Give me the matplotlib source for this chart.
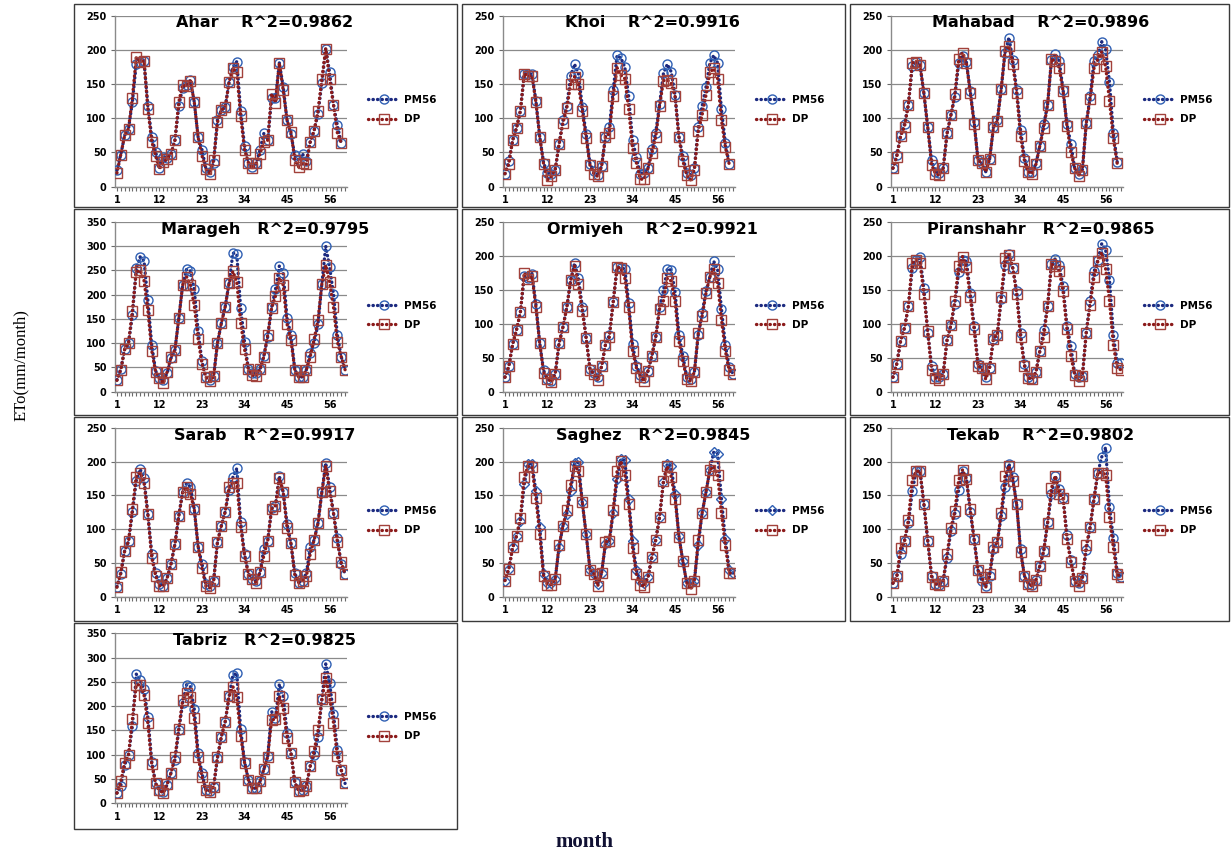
import matplotlib
matplotlib.use("Agg")
import matplotlib.pyplot as plt
from matplotlib.patches import Rectangle

# monthly ETo (mm/month): PM56 vs DP
ahar_pm = [24, 47, 75, 85, 124, 180, 183, 184, 118, 73, 51, 28, 44, 42, 48, 68, 118, 145, 148, 156,
           124, 72, 54, 27, 22, 35, 98, 112, 116, 153, 175, 183, 110, 60, 35, 29, 34, 54, 78, 68,
           129, 129, 181, 146, 97, 77, 46, 39, 48, 37, 66, 82, 107, 152, 202, 167, 120, 90, 64]
ahar_dp = [20, 47, 75, 85, 130, 189, 183, 184, 114, 66, 45, 26, 36, 41, 48, 68, 124, 149, 147, 155,
           124, 72, 45, 26, 19, 39, 94, 112, 116, 153, 173, 167, 103, 54, 35, 27, 34, 48, 66, 68,
           136, 123, 181, 141, 97, 80, 39, 29, 34, 33, 66, 82, 111, 157, 202, 158, 120, 79, 64]

khoi_pm = [19, 37, 68, 86, 111, 165, 165, 165, 126, 73, 35, 20, 19, 25, 62, 97, 118, 162, 179, 166,
           117, 77, 33, 23, 17, 30, 73, 87, 141, 192, 188, 175, 132, 68, 43, 19, 20, 27, 55, 79,
           121, 166, 179, 168, 134, 73, 45, 20, 17, 27, 88, 118, 146, 181, 192, 181, 113, 64, 33]
khoi_dp = [19, 33, 68, 86, 111, 165, 162, 162, 124, 73, 33, 10, 15, 25, 62, 93, 115, 150, 161, 150,
           110, 71, 31, 19, 15, 30, 72, 78, 133, 174, 163, 158, 114, 56, 35, 11, 11, 27, 49, 73,
           118, 155, 156, 151, 132, 72, 38, 17, 10, 25, 81, 105, 134, 167, 173, 158, 97, 58, 33]

mahabad_pm = [27, 46, 76, 92, 120, 176, 183, 178, 137, 87, 39, 22, 20, 27, 78, 105, 131, 181, 191, 182,
              140, 95, 39, 34, 22, 40, 87, 98, 143, 196, 218, 185, 142, 83, 42, 22, 21, 34, 60, 91,
              120, 185, 194, 184, 142, 92, 63, 27, 19, 25, 93, 132, 184, 192, 212, 201, 153, 79, 36]
mahabad_dp = [27, 44, 74, 88, 120, 181, 183, 178, 137, 87, 32, 19, 17, 27, 78, 105, 135, 186, 196, 181,
              137, 92, 39, 34, 22, 40, 87, 96, 143, 199, 206, 179, 137, 74, 38, 22, 19, 33, 60, 86,
              120, 186, 184, 174, 140, 89, 51, 27, 16, 25, 93, 128, 173, 186, 197, 176, 126, 71, 34]

marageh_pm = [24, 46, 87, 100, 158, 254, 278, 270, 189, 96, 43, 27, 23, 38, 69, 86, 151, 220, 252, 249,
              211, 124, 62, 30, 24, 31, 100, 141, 175, 224, 286, 283, 172, 103, 46, 38, 38, 46, 74, 113,
              174, 211, 259, 245, 151, 117, 45, 30, 30, 45, 79, 100, 139, 222, 300, 257, 202, 117, 72, 45]
marageh_dp = [23, 45, 87, 100, 167, 247, 250, 229, 168, 84, 41, 27, 17, 41, 71, 86, 151, 220, 237, 220,
              178, 108, 57, 30, 21, 31, 100, 141, 175, 224, 248, 226, 142, 87, 46, 34, 32, 46, 72, 117,
              172, 197, 235, 220, 139, 106, 45, 30, 30, 45, 72, 108, 148, 222, 261, 226, 174, 103, 72, 45]

ormiyeh_pm = [21, 37, 70, 91, 117, 170, 168, 174, 129, 71, 31, 19, 16, 26, 71, 95, 124, 164, 189, 167,
              125, 79, 33, 27, 21, 37, 69, 83, 132, 183, 182, 181, 131, 70, 38, 24, 20, 30, 53, 80,
              125, 149, 181, 179, 147, 84, 53, 22, 19, 29, 84, 116, 148, 169, 192, 180, 122, 69, 36, 26]
ormiyeh_dp = [21, 37, 70, 91, 117, 175, 166, 170, 125, 71, 28, 19, 14, 26, 71, 95, 124, 164, 185, 158,
              119, 79, 32, 26, 17, 37, 69, 80, 132, 183, 182, 167, 124, 60, 35, 22, 15, 30, 53, 80,
              122, 134, 167, 163, 133, 74, 45, 19, 15, 29, 86, 111, 145, 169, 181, 160, 106, 60, 31, 26]

piranshahr_pm = [21, 41, 75, 94, 126, 182, 194, 198, 152, 87, 38, 22, 21, 26, 76, 98, 129, 176, 194, 192,
                 146, 97, 41, 34, 21, 35, 78, 84, 136, 186, 203, 182, 148, 86, 40, 21, 18, 29, 60, 90,
                 126, 188, 196, 186, 155, 97, 67, 26, 21, 23, 87, 134, 177, 194, 218, 209, 165, 84, 42, 42]
piranshahr_dp = [21, 41, 75, 94, 126, 190, 194, 190, 144, 89, 31, 20, 17, 26, 76, 98, 134, 185, 199, 183,
                 140, 92, 38, 34, 18, 35, 78, 84, 140, 197, 202, 182, 144, 80, 38, 20, 18, 29, 60, 81,
                 126, 188, 185, 178, 148, 92, 53, 25, 16, 23, 87, 128, 169, 192, 205, 181, 134, 69, 34, 32]

sarab_pm = [15, 34, 68, 82, 125, 172, 189, 176, 122, 64, 35, 19, 16, 28, 49, 78, 120, 155, 168, 163,
            130, 74, 49, 19, 16, 23, 81, 105, 126, 158, 177, 190, 110, 63, 34, 26, 23, 36, 71, 83,
            131, 135, 179, 155, 108, 79, 35, 21, 24, 35, 73, 84, 109, 155, 198, 163, 124, 87, 48, 34]
sarab_dp = [14, 36, 68, 82, 130, 178, 184, 169, 122, 58, 31, 16, 16, 28, 49, 78, 120, 155, 162, 152,
            130, 74, 42, 16, 13, 23, 81, 105, 126, 163, 169, 169, 104, 61, 34, 26, 21, 36, 61, 83,
            130, 135, 176, 155, 102, 79, 32, 21, 24, 30, 64, 84, 109, 155, 194, 157, 124, 81, 51, 34]

saghez_pm = [24, 41, 73, 90, 112, 167, 197, 197, 156, 103, 34, 21, 21, 26, 73, 105, 123, 156, 198, 199,
             140, 93, 40, 34, 19, 35, 78, 83, 124, 174, 204, 202, 145, 82, 39, 23, 21, 29, 59, 84,
             118, 170, 197, 193, 152, 90, 53, 21, 21, 24, 77, 124, 155, 188, 214, 212, 145, 85, 40, 35]
saghez_dp = [24, 41, 73, 90, 117, 178, 193, 192, 146, 93, 30, 18, 18, 26, 76, 105, 128, 166, 194, 187,
             140, 93, 40, 34, 16, 35, 81, 83, 128, 186, 201, 181, 138, 72, 34, 18, 15, 29, 59, 84,
             118, 172, 193, 178, 145, 89, 53, 21, 11, 24, 84, 124, 155, 188, 193, 181, 124, 76, 35, 35]

tekab_pm = [20, 30, 63, 83, 109, 156, 186, 186, 138, 83, 31, 19, 18, 24, 58, 98, 123, 158, 186, 176,
            126, 85, 39, 23, 16, 30, 71, 81, 119, 163, 197, 177, 137, 71, 31, 19, 18, 25, 46, 68,
            110, 152, 179, 160, 147, 92, 54, 23, 21, 28, 69, 103, 145, 184, 207, 221, 133, 87, 35, 29]
tekab_dp = [20, 30, 72, 83, 114, 173, 186, 186, 138, 83, 29, 19, 18, 24, 63, 102, 127, 173, 188, 174,
            130, 85, 39, 29, 14, 33, 73, 81, 124, 179, 194, 172, 137, 66, 31, 19, 16, 25, 46, 68,
            109, 161, 179, 152, 147, 85, 52, 23, 16, 28, 76, 103, 145, 184, 184, 181, 118, 73, 33, 29]

tabriz_pm = [21, 36, 79, 100, 159, 266, 253, 236, 178, 86, 41, 26, 24, 38, 63, 89, 151, 206, 244, 240,
             194, 104, 62, 27, 26, 34, 93, 137, 168, 220, 264, 268, 152, 86, 48, 31, 31, 45, 70, 97,
             189, 175, 245, 221, 144, 104, 43, 26, 27, 36, 77, 100, 136, 214, 287, 248, 184, 110, 69, 41]
tabriz_dp = [21, 45, 84, 100, 173, 244, 244, 223, 165, 81, 41, 27, 21, 40, 63, 95, 154, 213, 228, 218,
             175, 96, 54, 27, 24, 34, 96, 137, 168, 220, 240, 218, 139, 84, 48, 31, 31, 45, 70, 96,
             172, 173, 221, 196, 134, 104, 43, 26, 27, 36, 77, 108, 150, 214, 259, 218, 166, 97, 69, 41]

stations = ["Ahar", "Khoi", "Mahabad", "Marageh", "Ormiyeh", "Piranshahr",
            "Sarab", "Saghez", "Tekab", "Tabriz"]
r2_values = ["0.9862", "0.9916", "0.9896", "0.9795", "0.9921", "0.9865",
             "0.9917", "0.9845", "0.9802", "0.9825"]
title_gaps = [4, 4, 4, 3, 4, 3, 3, 3, 4, 3]
y_max = [250, 250, 250, 350, 250, 250, 250, 250, 250, 350]
pm_series = [ahar_pm, khoi_pm, mahabad_pm, marageh_pm, ormiyeh_pm,
             piranshahr_pm, sarab_pm, saghez_pm, tekab_pm, tabriz_pm]
dp_series = [ahar_dp, khoi_dp, mahabad_dp, marageh_dp, ormiyeh_dp,
             piranshahr_dp, sarab_dp, saghez_dp, tekab_dp, tabriz_dp]
month_labels = [1, 12, 23, 34, 45, 56]

W, H = 1231, 851
fig = plt.figure(figsize=(W / 100, H / 100), dpi=100)
fig.patch.set_facecolor("white")

# panel boxes and plot areas in pixels (top-left origin)
cols = [(74, 457), (462, 845), (850, 1229)]
rows = [(4, 207), (209, 415), (417, 621), (623, 829)]
plot_rows = [(15.7, 186.7), (222, 391.5), (428, 596.7), (633.3, 803.3)]

PM_LINE, PM_EDGE = "#1c2a80", "#2f5fb3"
DP_LINE, DP_EDGE = "#8b1a1a", "#a2413b"
dots = (0, (0.1, 1.25))

for i, name in enumerate(stations):
    r, c = divmod(i, 3)
    x0, x1 = cols[c]
    y0, y1 = rows[r]
    fig.add_artist(Rectangle((x0 / W, 1 - y1 / H), (x1 - x0) / W, (y1 - y0) / H,
                             transform=fig.transFigure, fill=False,
                             edgecolor="#3a3a3a", linewidth=1.0))
    at, ab = plot_rows[r]
    ax = fig.add_axes([(x0 + 41) / W, 1 - ab / H, 232 / W, (ab - at) / H])

    pm = pm_series[i]
    dp = dp_series[i]
    pm_marker = "D" if name == "Saghez" else "o"
    ax.plot(range(1, len(pm) + 1), pm, linestyle=dots, dash_capstyle="round",
            linewidth=2.4, color=PM_LINE, marker=pm_marker,
            markersize=5.5 if pm_marker == "D" else 6.5, markerfacecolor="none",
            markeredgecolor=PM_EDGE, markeredgewidth=1.0, label="PM56", zorder=3)
    ax.plot(range(1, len(dp) + 1), dp, linestyle=dots, dash_capstyle="round",
            linewidth=2.4, color=DP_LINE, marker="s", markersize=6.5,
            markerfacecolor="none", markeredgecolor=DP_EDGE,
            markeredgewidth=1.0, label="DP", zorder=4)

    ax.set_xlim(0.5, 60.5)
    ax.set_ylim(0, y_max[i])
    ax.set_yticks(range(0, y_max[i] + 1, 50))
    ax.set_xticks(month_labels)
    ax.set_xticks(range(1, 61), minor=True)
    for s in ["top", "right"]:
        ax.spines[s].set_visible(False)
    for s in ["left", "bottom"]:
        ax.spines[s].set_color("#8a8a8a")
        ax.spines[s].set_linewidth(1.0)
    ax.yaxis.grid(True, color="#8a8a8a", linewidth=0.9)
    ax.set_axisbelow(True)
    ax.tick_params(axis="both", which="both", direction="out", length=3,
                   width=0.8, color="#6a6a6a", labelsize=7, pad=3)
    for lab in ax.get_xticklabels() + ax.get_yticklabels():
        lab.set_fontweight("bold")

    ax.text(0.646, 0.958, name + " " * title_gaps[i] + "R^2=" + r2_values[i],
            transform=ax.transAxes, ha="center", va="center",
            fontsize=11.5, fontweight="bold", clip_on=False)

    ax.legend(loc="center left", bbox_to_anchor=(1.09, 0.45), frameon=False,
              prop={"size": 7.5, "weight": "bold"}, handlelength=3.0,
              handletextpad=0.5, labelspacing=0.9, borderpad=0,
              borderaxespad=0, numpoints=1)

fig.text(21 / W, 1 - 365 / H, "ETo(mm/month)", rotation=90, ha="center",
         va="center", family="Liberation Serif", fontsize=12)
fig.text(584 / W, 1 - 842 / H, "month", ha="center", va="center",
         family="Liberation Serif", fontsize=15, fontweight="bold",
         color="#111133")

fig.savefig("out.png", dpi=100)
